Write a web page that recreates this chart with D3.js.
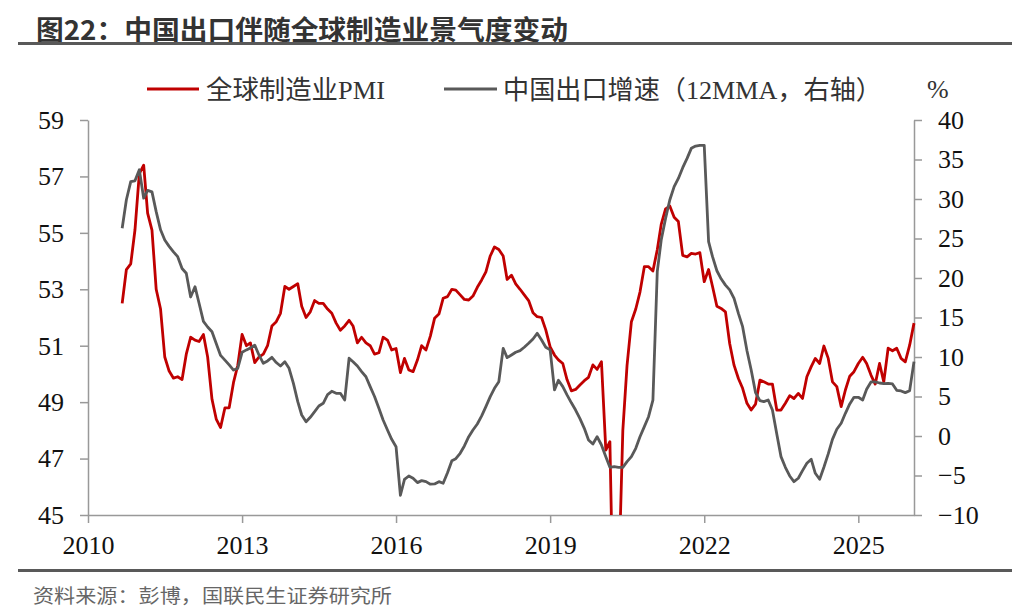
<!DOCTYPE html>
<html><head><meta charset="utf-8">
<script src="https://cdn.jsdelivr.net/npm/d3@7"></script>
<style>body{margin:0;background:#fff;} svg{display:block}</style>
</head><body><svg id="c" width="1024" height="612"></svg>
<script>
// ---- data ----
const firstMonth = [2010, 8];   // Sep 2010 (JS month index)
const lastMonth  = [2026, 1];   // Feb 2026
const pmi = [
 52.5,53.7,53.9,55.1,57.1,57.4,55.7,55.1,53.0,52.3,50.6,50.1,49.85,49.9,49.8,50.7,
 51.3,51.2,51.15,51.4,50.6,49.1,48.4,48.1,48.8,48.8,49.7,50.3,
 51.4,51.0,51.1,50.4,50.6,50.7,51.0,51.7,51.85,52.15,53.1,53.0,
 53.1,53.2,52.4,52.0,52.2,52.6,52.5,52.5,52.3,52.15,51.8,51.55,
 51.7,51.9,51.7,51.1,51.3,51.1,51.0,50.7,50.75,51.3,51.2,50.85,
 50.9,50.05,50.55,50.14,50.08,50.49,51.0,50.85,51.34,51.97,52.12,52.68,
 52.74,53.0,52.97,52.8,52.64,52.62,52.76,53.07,53.33,53.62,54.18,54.5,
 54.41,54.18,53.35,53.5,53.19,53.0,52.8,52.6,52.17,52.03,52.0,51.56,
 50.96,50.67,50.5,50.37,49.8,49.4,49.45,49.61,49.76,49.88,50.32,50.16,
 50.43,47.3,47.6,39.8,42.4,48.0,50.3,51.85,52.3,52.9,53.8,53.8,
 53.65,54.4,55.3,55.85,55.95,55.55,55.4,54.2,54.15,54.27,54.25,54.3,
 53.27,53.7,53.1,52.4,52.32,52.2,51.08,50.31,49.84,49.49,48.96,48.72,
 48.93,49.78,49.72,49.64,49.64,48.72,48.72,48.96,49.23,49.13,49.31,49.13,
 49.9,50.26,50.55,50.37,50.99,50.55,49.72,49.55,48.84,49.43,49.92,50.08,
 50.37,50.59,50.37,49.96,49.64,50.37,49.72,50.91,50.82,50.91,50.55,50.43,
 51.02,51.8
];
const exportGrowth = [
 26.3,29.9,32.2,32.3,33.7,30.1,31.1,30.9,28.4,26.1,24.8,24.0,23.3,22.7,21.2,20.6,
 17.6,18.9,16.8,14.5,13.8,13.2,11.7,10.2,9.6,9.0,8.35,8.56,
 10.6,10.9,11.15,11.5,10.26,9.2,9.5,9.96,9.3,8.86,9.4,8.57,
 6.67,4.35,2.66,1.8,2.37,3.08,3.8,4.14,5.24,5.66,5.4,5.4,
 4.56,9.84,9.4,8.86,8.15,7.5,6.25,5.0,3.5,2.03,0.76,-0.42,
 -1.35,-7.5,-5.5,-5.06,-5.35,-5.9,-5.65,-5.78,-6.1,-6.07,-5.78,-5.99,
 -4.64,-3.12,-2.87,-2.19,-1.26,-0.08,0.76,1.52,2.54,3.72,4.98,6.04,
 6.88,11.1,9.92,10.26,10.6,10.8,11.23,11.73,12.28,13.0,12.16,11.23,
 10.9,5.83,7.05,6.25,5.2,4.2,3.29,2.19,0.97,-0.51,-1.02,-0.09,
 -1.14,-2.62,-3.97,-3.89,-3.97,-3.97,-3.25,-2.62,-1.56,-0.09,1.18,2.44,
 4.55,20.8,24.8,27.55,29.87,31.56,32.6,33.96,35.14,36.41,36.7,36.79,
 36.79,24.6,22.7,20.92,19.9,19.1,18.5,17.43,15.53,13.84,10.8,8.36,
 5.49,4.48,4.35,4.56,3.3,0.26,-2.61,-3.96,-5.06,-5.78,-5.35,-4.38,
 -3.46,-2.95,-4.72,-5.48,-3.96,-2.27,-0.42,0.85,1.61,2.87,4.06,4.9,
 4.9,4.56,5.91,6.84,6.84,6.71,6.63,6.67,6.59,5.79,5.7,5.49,
 5.74,9.41
];
const leftTicks  = [45,47,49,51,53,55,57,59];
const rightTicks = [-10,-5,0,5,10,15,20,25,30,35,40];
const xTickYears = [2010,2013,2016,2019,2022,2025];
const titleText  = "图22：中国出口伴随全球制造业景气度变动";
const legendNames = ["全球制造业PMI","中国出口增速（12MMA，右轴）"];
const sourceText = "资料来源：彭博，国联民生证券研究所";

// ---- chart ----
const svg = d3.select("#c");
const L = 88, R = 914, T = 120, B = 515;
const months = d3.timeMonth.range(new Date(firstMonth[0], firstMonth[1], 1),
                                  new Date(lastMonth[0], lastMonth[1] + 1, 1));
const x = d3.scaleTime().domain([new Date(2010,0,1), new Date(lastMonth[0], lastMonth[1], 1)]).range([L, R]);
const yL = d3.scaleLinear().domain([45,59]).range([B, T]);
const yR = d3.scaleLinear().domain([-10,40]).range([B, T]);

const serif = "'Liberation Serif','Times New Roman','Noto Sans CJK SC',serif";
const cjk = "'Noto Sans CJK SC','Noto Sans',sans-serif";

// title + rules
svg.append("text").attr("x",36).attr("y",28).attr("dominant-baseline","central")
  .attr("font-family",cjk).attr("font-weight","bold").attr("font-size",27)
  .attr("fill","#333").attr("textLength",532).attr("lengthAdjust","spacingAndGlyphs").text(titleText);
svg.append("rect").attr("x",18).attr("y",42).attr("width",994).attr("height",3).attr("fill","#595959");
svg.append("rect").attr("x",18).attr("y",569).attr("width",994).attr("height",3).attr("fill","#595959");
svg.append("text").attr("x",33).attr("y",594).attr("dominant-baseline","central")
  .attr("font-family",cjk).attr("font-size",19).attr("fill","#666")
  .attr("textLength",359).attr("lengthAdjust","spacingAndGlyphs").text(sourceText);

// axes
const axisColor = "#999";
function styleAxis(g){
  g.select(".domain").attr("stroke",axisColor).attr("stroke-width",1.5);
  g.selectAll(".tick line").attr("stroke",axisColor).attr("stroke-width",1.5);
  g.selectAll(".tick text").attr("font-family",serif).attr("font-size",26).attr("fill","#111");
}
svg.append("g").attr("transform",`translate(${L},0)`)
  .call(d3.axisLeft(yL).tickValues(leftTicks).tickSize(8).tickSizeOuter(0).tickPadding(16)).call(styleAxis);
svg.append("g").attr("transform",`translate(${R},0)`)
  .call(d3.axisRight(yR).tickValues(rightTicks).tickSize(8).tickSizeOuter(0).tickPadding(16)).call(styleAxis);
svg.append("g").attr("transform",`translate(0,${B})`)
  .call(d3.axisBottom(x).tickValues(xTickYears.map(yy=>new Date(yy,0,1)))
    .tickFormat(d3.timeFormat("%Y")).tickSize(8).tickSizeOuter(0).tickPadding(13)).call(styleAxis);

// clip
svg.append("clipPath").attr("id","plot").append("rect")
  .attr("x",L).attr("y",T-10).attr("width",R-L+2).attr("height",B-T+10);

const lineL = d3.line().x((d,i)=>x(months[i])).y(d=>yL(d));
const lineR = d3.line().x((d,i)=>x(months[i])).y(d=>yR(d));
const red = "#C00000", gray = "#595959";
svg.append("path").datum(pmi).attr("clip-path","url(#plot)").attr("d",lineL)
  .attr("fill","none").attr("stroke",red).attr("stroke-width",2.8).attr("stroke-linejoin","round");
svg.append("path").datum(exportGrowth).attr("clip-path","url(#plot)").attr("d",lineR)
  .attr("fill","none").attr("stroke",gray).attr("stroke-width",2.8).attr("stroke-linejoin","round");

// legend
const leg = [
  {x1:147,x2:199,tx:206,w:179,c:red,name:legendNames[0]},
  {x1:444,x2:497,tx:503,w:379,c:gray,name:legendNames[1]}
];
leg.forEach(l=>{
  svg.append("line").attr("x1",l.x1).attr("x2",l.x2).attr("y1",89).attr("y2",89)
    .attr("stroke",l.c).attr("stroke-width",3);
  svg.append("text").attr("x",l.tx).attr("y",90).attr("dominant-baseline","central")
    .attr("font-family",serif).attr("font-size",26).attr("fill","#333")
    .attr("textLength",l.w).attr("lengthAdjust","spacingAndGlyphs").text(l.name);
});
svg.append("text").attr("x",927).attr("y",89).attr("dominant-baseline","central")
  .attr("font-family",serif).attr("font-size",26).attr("fill","#333").text("%");
</script></body></html>
